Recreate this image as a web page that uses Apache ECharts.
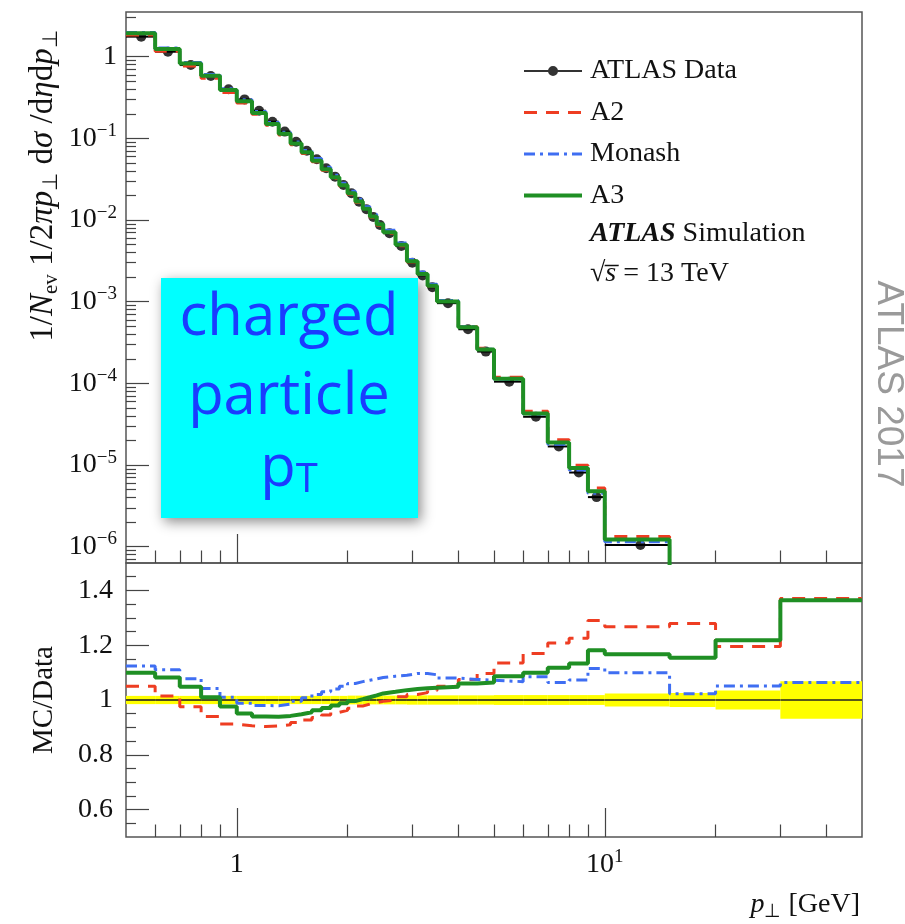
<!DOCTYPE html>
<html>
<head>
<meta charset="utf-8">
<script src="https://cdn.jsdelivr.net/npm/echarts@6/dist/echarts.min.js"></script>
<style>
html, body { margin: 0; padding: 0; background: #fff; }
#main { width: 905px; height: 924px; }
</style>
</head>
<body>
<div id="main"></div>
<script>
// pT bins [GeV]
var binLow  = [0.5, 0.6, 0.7, 0.8, 0.9, 1.0, 1.1, 1.2, 1.3, 1.4, 1.5, 1.6, 1.7, 1.8, 1.9, 2.0, 2.1, 2.2, 2.3, 2.4,
               2.5, 2.7, 2.9, 3.1, 3.3, 3.5, 4.0, 4.5, 5, 6, 7, 8, 9, 10, 15, 20, 30];
var binHigh = [0.6, 0.7, 0.8, 0.9, 1.0, 1.1, 1.2, 1.3, 1.4, 1.5, 1.6, 1.7, 1.8, 1.9, 2.0, 2.1, 2.2, 2.3, 2.4, 2.5,
               2.7, 2.9, 3.1, 3.3, 3.5, 4.0, 4.5, 5, 6, 7, 8, 9, 10, 15, 20, 30, 50];

// ATLAS data, 1/Nev 1/2pi pT dsigma/deta dpT
var dataVals = [1.76, 1.15, 0.79, 0.58, 0.40, 0.30, 0.218, 0.160, 0.121, 0.091, 0.0706, 0.0554, 0.0430, 0.0340, 0.0269,
                0.0213, 0.0168, 0.0136, 0.0109, 0.0087, 0.0069, 0.0048, 0.0030, 0.0021, 0.0015, 9.6e-4, 4.6e-4, 2.45e-4,
                1.05e-4, 3.9e-5, 1.69e-5, 8.1e-6, 4.05e-6, 1.05e-6, 2.2e-7, 4.5e-8, 4.5e-9];

// MC / Data
var ratioA2 = [1.05, 1.015, 0.975, 0.94, 0.912, 0.906, 0.903, 0.905, 0.91, 0.918, 0.927, 0.936, 0.945, 0.955, 0.962,
               0.97, 0.978, 0.985, 0.99, 0.995, 1.0, 1.012, 1.02, 1.027, 1.035, 1.05, 1.075, 1.097,
               1.135, 1.17, 1.208, 1.225, 1.29, 1.267, 1.279, 1.195, 1.37];
var ratioMonash = [1.124, 1.11, 1.078, 1.042, 1.01, 0.988, 0.98, 0.979, 0.985, 0.995, 1.008, 1.02, 1.03, 1.04, 1.05,
                   1.06, 1.067, 1.072, 1.077, 1.082, 1.087, 1.09, 1.097, 1.097, 1.092, 1.08, 1.075, 1.072,
                   1.067, 1.085, 1.064, 1.073, 1.115, 1.099, 1.023, 1.051, 1.064];
var ratioA3 = [1.099, 1.082, 1.048, 1.01, 0.976, 0.951, 0.94, 0.939, 0.942, 0.948, 0.955, 0.963, 0.971, 0.98, 0.988,
               0.996, 1.003, 1.01, 1.017, 1.024, 1.03, 1.036, 1.04, 1.043, 1.045, 1.048, 1.06, 1.064,
               1.087, 1.099, 1.118, 1.133, 1.182, 1.167, 1.154, 1.218, 1.364];
// data uncertainty band (yellow)
var bandErr = [0.015, 0.015, 0.015, 0.015, 0.015, 0.015, 0.015, 0.015, 0.015, 0.015, 0.015, 0.015, 0.015, 0.015, 0.015,
               0.016, 0.016, 0.016, 0.016, 0.016, 0.016, 0.016, 0.017, 0.017, 0.017, 0.017, 0.017, 0.017,
               0.018, 0.018, 0.018, 0.018, 0.018, 0.024, 0.026, 0.035, 0.068];

// tick values
var xMajor = [1, 10];
var xMinor = [0.6, 0.7, 0.8, 0.9, 2, 3, 4, 5, 6, 7, 8, 9, 20, 30, 40];
var yLogMajor = [1e-6, 1e-5, 1e-4, 1e-3, 1e-2, 1e-1, 1];
var yRatioMajor = [0.6, 0.8, 1, 1.2, 1.4];
var yRatioMinor = [0.55, 0.65, 0.7, 0.75, 0.85, 0.9, 0.95, 1.05, 1.1, 1.15, 1.25, 1.3, 1.35, 1.45];

var yLogMin = 6.32e-7, yLogMax = 3.526;
var yLogMinor = [];
for (var n = -7; n <= 0; n++) {
    for (var k = 2; k <= 9; k++) {
        var v = k * Math.pow(10, n);
        if (v > yLogMin && v < yLogMax) yLogMinor.push(v);
    }
}

var cRed = '#ee3d22', cBlue = '#3f6ef2', cGreen = '#1f8f24';
var serif = 'Liberation Serif';

// step-line points from bin edges
function steps(vals) {
    var pts = [];
    for (var i = 0; i < binLow.length; i++) pts.push([binLow[i], vals[i]]);
    pts.push([binHigh[binHigh.length - 1], vals[vals.length - 1]]);
    return pts;
}
function times(a, b) {
    return a.map(function (x, i) { return x * b[i]; });
}

var richNum = {
    b: { fontFamily: serif, fontSize: 28, lineHeight: 34, color: '#111' },
    s: { fontFamily: serif, fontSize: 19, lineHeight: 17, verticalAlign: 'top', color: '#111' }
};
var richTitle = {
    t: { fontFamily: serif, fontSize: 33, lineHeight: 38, fill: '#111' },
    i: { fontFamily: serif, fontSize: 33, lineHeight: 38, fontStyle: 'italic', fill: '#111' },
    sub: { fontFamily: serif, fontSize: 21, lineHeight: 19, verticalAlign: 'bottom', fill: '#111' }
};

function logLabel(v) {
    var e = Math.round(Math.log10(v));
    if (e === 0) return '{b|1}';
    return '{b|10}{s|' + (e < 0 ? '\u2212' : '') + Math.abs(e) + '}';
}

var tickLine = { color: '#444', width: 1.2 };

var option = {
    animation: false,
    backgroundColor: '#fff',
    grid: [
        { left: 126, right: 43, top: 12, height: 551, show: true, borderColor: '#555', borderWidth: 1.5, backgroundColor: 'transparent' },
        { left: 126, right: 43, top: 563, height: 274, show: true, borderColor: '#555', borderWidth: 1.5, backgroundColor: 'transparent' }
    ],
    legend: {
        orient: 'vertical',
        left: 517,
        top: 51,
        itemWidth: 58,
        itemHeight: 12,
        itemGap: 11.5,
        selectedMode: false,
        lineStyle: { width: 'inherit' },
        textStyle: { fontFamily: serif, fontSize: 28, lineHeight: 30, color: '#111', padding: [0, 0, 0, 3] },
        data: [
            { name: 'ATLAS Data', icon: 'path://M0,5H58V7H0Z M34,6A5,5,0,1,1,24,6A5,5,0,1,1,34,6Z' },
            { name: 'A2', itemStyle: { opacity: 0 }, lineStyle: { width: 3 } },
            { name: 'Monash', itemStyle: { opacity: 0 }, lineStyle: { width: 3 } },
            { name: 'A3', itemStyle: { opacity: 0 }, lineStyle: { width: 4 } }
        ]
    },
    xAxis: [
        { type: 'log', gridIndex: 0, position: 'bottom', min: 0.5, max: 50, axisLine: { show: false }, splitLine: { show: false },
          axisLabel: { show: false }, axisTick: { inside: true, length: 29, lineStyle: tickLine, customValues: xMajor } },
        { type: 'log', gridIndex: 0, position: 'bottom', min: 0.5, max: 50, axisLine: { show: false }, splitLine: { show: false },
          axisLabel: { show: false }, axisTick: { inside: true, length: 12.5, lineStyle: tickLine, customValues: xMinor } },
        { type: 'log', gridIndex: 1, position: 'bottom', min: 0.5, max: 50, axisLine: { show: false }, splitLine: { show: false },
          axisTick: { inside: true, length: 29, lineStyle: tickLine, customValues: xMajor },
          axisLabel: { show: true, customValues: xMajor, margin: 11, formatter: function (v) {
              return v === 1 ? '{b|1}' : '{b|10}{s|1}';
          }, rich: richNum } },
        { type: 'log', gridIndex: 1, position: 'bottom', min: 0.5, max: 50, axisLine: { show: false }, splitLine: { show: false },
          axisLabel: { show: false }, axisTick: { inside: true, length: 12.5, lineStyle: tickLine, customValues: xMinor } }
    ],
    yAxis: [
        { type: 'log', gridIndex: 0, position: 'left', min: yLogMin, max: yLogMax, axisLine: { show: false }, splitLine: { show: false },
          axisTick: { inside: true, length: 23, lineStyle: tickLine, customValues: yLogMajor },
          axisLabel: { customValues: yLogMajor, margin: 9, formatter: logLabel, rich: richNum } },
        { type: 'log', gridIndex: 0, position: 'left', min: yLogMin, max: yLogMax, axisLine: { show: false }, splitLine: { show: false },
          axisLabel: { show: false }, axisTick: { inside: true, length: 10, lineStyle: tickLine, customValues: yLogMinor } },
        { type: 'value', gridIndex: 1, position: 'left', min: 0.5, max: 1.5, axisLine: { show: false }, splitLine: { show: false },
          axisTick: { inside: true, length: 23, lineStyle: tickLine, customValues: yRatioMajor },
          axisLabel: { customValues: yRatioMajor, margin: 13, fontFamily: serif, fontSize: 28, color: '#111' } },
        { type: 'value', gridIndex: 1, position: 'left', min: 0.5, max: 1.5, axisLine: { show: false }, splitLine: { show: false },
          axisLabel: { show: false }, axisTick: { inside: true, length: 10, lineStyle: tickLine, customValues: yRatioMinor } }
    ],
    series: [
        // ---- main panel ----
        {
            name: 'ATLAS Data', type: 'scatter', xAxisIndex: 0, yAxisIndex: 0, clip: true,
            symbol: 'circle', symbolSize: 10, itemStyle: { color: '#000' },
            data: dataVals.map(function (v, i) { return [(binLow[i] + binHigh[i]) / 2, v]; })
        },
        {
            name: 'ATLAS Data', type: 'custom', xAxisIndex: 0, yAxisIndex: 0, clip: true,
            itemStyle: { color: '#000' },
            encode: { x: [0, 1], y: 2 },
            data: dataVals.map(function (v, i) { return [binLow[i], binHigh[i], v]; }),
            renderItem: function (params, api) {
                var p1 = api.coord([api.value(0), api.value(2)]);
                var p2 = api.coord([api.value(1), api.value(2)]);
                return { type: 'line', shape: { x1: p1[0], y1: p1[1], x2: p2[0], y2: p2[1] },
                         style: { stroke: '#000', lineWidth: 2 } };
            }
        },
        { name: 'A2', type: 'line', xAxisIndex: 0, yAxisIndex: 0, step: 'end', symbol: 'none', clip: true,
          itemStyle: { color: cRed }, lineStyle: { color: cRed, width: 3, type: [13, 9] },
          data: steps(times(dataVals, ratioA2)) },
        { name: 'Monash', type: 'line', xAxisIndex: 0, yAxisIndex: 0, step: 'end', symbol: 'none', clip: true,
          itemStyle: { color: cBlue }, lineStyle: { color: cBlue, width: 3, type: [11, 5, 3, 5] },
          data: steps(times(dataVals, ratioMonash)) },
        { name: 'A3', type: 'line', xAxisIndex: 0, yAxisIndex: 0, step: 'end', symbol: 'none', clip: true,
          itemStyle: { color: cGreen }, lineStyle: { color: cGreen, width: 4 },
          data: steps(times(dataVals, ratioA3)) },

        // ---- ratio panel ----
        {
            name: 'ATLAS Data', type: 'custom', xAxisIndex: 2, yAxisIndex: 2, clip: true,
            itemStyle: { color: '#ffff00' },
            encode: { x: [0, 1], y: 2 },
            data: bandErr.map(function (e, i) { return [binLow[i], binHigh[i], 1, e]; }),
            renderItem: function (params, api) {
                var lo = api.value(0), hi = api.value(1), c = api.value(2), e = api.value(3);
                var p1 = api.coord([lo, c + e]);
                var p2 = api.coord([hi, c - e]);
                var pc = api.coord([lo, c]);
                return {
                    type: 'group',
                    children: [
                        { type: 'rect', shape: { x: p1[0], y: p1[1], width: p2[0] - p1[0], height: p2[1] - p1[1] },
                          style: { fill: '#ffff00' } },
                        { type: 'line', shape: { x1: p1[0], y1: pc[1], x2: p2[0], y2: pc[1] },
                          style: { stroke: '#222', lineWidth: 1.6 } }
                    ]
                };
            }
        },
        { name: 'A2', type: 'line', xAxisIndex: 2, yAxisIndex: 2, step: 'end', symbol: 'none', clip: true,
          itemStyle: { color: cRed }, lineStyle: { color: cRed, width: 3, type: [13, 9] },
          data: steps(ratioA2) },
        { name: 'Monash', type: 'line', xAxisIndex: 2, yAxisIndex: 2, step: 'end', symbol: 'none', clip: true,
          itemStyle: { color: cBlue }, lineStyle: { color: cBlue, width: 3, type: [11, 5, 3, 5] },
          data: steps(ratioMonash) },
        { name: 'A3', type: 'line', xAxisIndex: 2, yAxisIndex: 2, step: 'end', symbol: 'none', clip: true,
          itemStyle: { color: cGreen }, lineStyle: { color: cGreen, width: 4 },
          data: steps(ratioA3) }
    ],
    graphic: [
        // y axis title, main panel
        {
            type: 'text', x: 43, y: 186, rotation: Math.PI / 2,
            style: {
                text: '{t|1/}{i|N}{sub|ev}{t| 1/2}{i|\u03C0p}{sub|\u22A5}{t| d}{i|\u03C3}{t| /d}{i|\u03B7}{t|d}{i|p}{sub|\u22A5}',
                align: 'center', verticalAlign: 'middle',
                rich: richTitle
            }
        },
        // y axis title, ratio panel
        {
            type: 'text', x: 44, y: 700, rotation: Math.PI / 2,
            style: { text: 'MC/Data', align: 'center', verticalAlign: 'middle', fontFamily: serif, fontSize: 29, fill: '#111' }
        },
        // x axis title
        {
            type: 'text', x: 860, y: 905,
            style: {
                text: '{i|p}{sub|\u22A5}{t| [GeV]}', align: 'right', verticalAlign: 'middle',
                rich: {
                    t: { fontFamily: serif, fontSize: 28, lineHeight: 34, fill: '#111' },
                    i: { fontFamily: serif, fontSize: 28, lineHeight: 34, fontStyle: 'italic', fill: '#111' },
                    sub: { fontFamily: serif, fontSize: 19, lineHeight: 17, verticalAlign: 'bottom', fill: '#111' }
                }
            }
        },
        // legend extras
        {
            type: 'text', x: 590, y: 234,
            style: {
                text: '{b|ATLAS}{t| Simulation}', align: 'left', verticalAlign: 'middle',
                rich: {
                    b: { fontFamily: serif, fontSize: 28, fontWeight: 'bold', fontStyle: 'italic', fill: '#111' },
                    t: { fontFamily: serif, fontSize: 28, fill: '#111' }
                }
            }
        },
        {
            type: 'text', x: 590, y: 274,
            style: {
                text: '{t|\u221A}{i|s\u0305}{t| = 13 TeV}', align: 'left', verticalAlign: 'middle',
                rich: {
                    t: { fontFamily: serif, fontSize: 28, fill: '#111' },
                    i: { fontFamily: serif, fontSize: 28, fontStyle: 'italic', fill: '#111' }
                }
            }
        },
        // cyan label box
        {
            type: 'rect', x: 161, y: 278, z: 100,
            shape: { width: 257, height: 240 },
            style: { fill: '#00ffff', shadowBlur: 12, shadowColor: 'rgba(0,0,0,0.45)', shadowOffsetX: 3, shadowOffsetY: 4 }
        },
        {
            type: 'text', x: 289, y: 318, z: 101,
            style: { text: 'charged', align: 'center', verticalAlign: 'middle', fontFamily: 'Open Sans', fontSize: 58, fill: '#1a3cff' }
        },
        {
            type: 'text', x: 289, y: 397, z: 101,
            style: { text: 'particle', align: 'center', verticalAlign: 'middle', fontFamily: 'Open Sans', fontSize: 58, fill: '#1a3cff' }
        },
        {
            type: 'text', x: 289, y: 469, z: 101,
            style: {
                text: '{p|p}{t|T}', align: 'center', verticalAlign: 'middle',
                rich: {
                    p: { fontFamily: 'Open Sans', fontSize: 58, lineHeight: 64, fill: '#1a3cff' },
                    t: { fontFamily: 'Open Sans', fontSize: 40, lineHeight: 46, verticalAlign: 'bottom', fill: '#1a3cff' }
                }
            }
        },
        // side watermark
        {
            type: 'text', x: 888, y: 384, rotation: -Math.PI / 2,
            style: { text: 'ATLAS 2017', align: 'center', verticalAlign: 'middle', fontFamily: 'Liberation Sans', fontSize: 37, fill: '#9a9a9a' }
        }
    ]
};

var myChart = echarts.init(document.getElementById('main'), null, { renderer: 'canvas' });
myChart.setOption(option);
</script>
</body>
</html>
